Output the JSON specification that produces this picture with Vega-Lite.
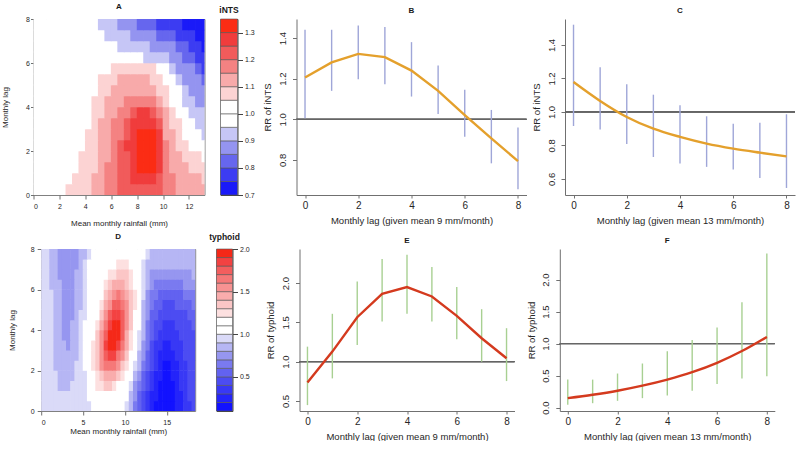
{
"$schema":"https://vega.github.io/schema/vega-lite/v6.json",
"padding":{"left":0.5,"top":2,"right":0,"bottom":0},
"config":{"font":"Liberation Sans","view":{"stroke":null},
"axis":{"grid":false,"domainColor":"#707070","tickColor":"#707070","labelColor":"#262626","titleColor":"#262626","titleFontWeight":"normal"},
"title":{"fontSize":8,"fontWeight":"bold","offset":4,"color":"#1a1a1a","anchor":"middle","frame":"group"}},
"datasets":{
"gA":[
{"x":0.25,"y":0.25,"v":1},{"x":0.75,"y":0.25,"v":1},{"x":1.25,"y":0.25,"v":1},{"x":1.75,"y":0.25,"v":1},{"x":2.25,"y":0.25,"v":1},{"x":2.75,"y":0.25,"v":1.075},{"x":3.25,"y":0.25,"v":1.075},{"x":3.75,"y":0.25,"v":1.075},{"x":4.25,"y":0.25,"v":1.075},{"x":4.75,"y":0.25,"v":1.125},{"x":5.25,"y":0.25,"v":1.125},{"x":5.75,"y":0.25,"v":1.175},{"x":6.25,"y":0.25,"v":1.175},{"x":6.75,"y":0.25,"v":1.225},{"x":7.25,"y":0.25,"v":1.225},{"x":7.75,"y":0.25,"v":1.225},{"x":8.25,"y":0.25,"v":1.225},{"x":8.75,"y":0.25,"v":1.225},{"x":9.25,"y":0.25,"v":1.225},{"x":9.75,"y":0.25,"v":1.225},{"x":10.25,"y":0.25,"v":1.175},{"x":10.75,"y":0.25,"v":1.175},{"x":11.25,"y":0.25,"v":1.125},{"x":11.75,"y":0.25,"v":1.125},{"x":12.25,"y":0.25,"v":1.125},{"x":12.75,"y":0.25,"v":1.125},{"x":13.25,"y":0.25,"v":1.125},
{"x":0.25,"y":0.75,"v":1},{"x":0.75,"y":0.75,"v":1},{"x":1.25,"y":0.75,"v":1},{"x":1.75,"y":0.75,"v":1},{"x":2.25,"y":0.75,"v":1},{"x":2.75,"y":0.75,"v":1},{"x":3.25,"y":0.75,"v":1.075},{"x":3.75,"y":0.75,"v":1.075},{"x":4.25,"y":0.75,"v":1.075},{"x":4.75,"y":0.75,"v":1.125},{"x":5.25,"y":0.75,"v":1.125},{"x":5.75,"y":0.75,"v":1.175},{"x":6.25,"y":0.75,"v":1.175},{"x":6.75,"y":0.75,"v":1.225},{"x":7.25,"y":0.75,"v":1.225},{"x":7.75,"y":0.75,"v":1.275},{"x":8.25,"y":0.75,"v":1.275},{"x":8.75,"y":0.75,"v":1.275},{"x":9.25,"y":0.75,"v":1.275},{"x":9.75,"y":0.75,"v":1.225},{"x":10.25,"y":0.75,"v":1.175},{"x":10.75,"y":0.75,"v":1.175},{"x":11.25,"y":0.75,"v":1.125},{"x":11.75,"y":0.75,"v":1.125},{"x":12.25,"y":0.75,"v":1.125},{"x":12.75,"y":0.75,"v":1.125},{"x":13.25,"y":0.75,"v":1.075},
{"x":0.25,"y":1.25,"v":1},{"x":0.75,"y":1.25,"v":1},{"x":1.25,"y":1.25,"v":1},{"x":1.75,"y":1.25,"v":1},{"x":2.25,"y":1.25,"v":1},{"x":2.75,"y":1.25,"v":1},{"x":3.25,"y":1.25,"v":1},{"x":3.75,"y":1.25,"v":1.075},{"x":4.25,"y":1.25,"v":1.075},{"x":4.75,"y":1.25,"v":1.075},{"x":5.25,"y":1.25,"v":1.125},{"x":5.75,"y":1.25,"v":1.175},{"x":6.25,"y":1.25,"v":1.175},{"x":6.75,"y":1.25,"v":1.225},{"x":7.25,"y":1.25,"v":1.225},{"x":7.75,"y":1.25,"v":1.275},{"x":8.25,"y":1.25,"v":1.325},{"x":8.75,"y":1.25,"v":1.325},{"x":9.25,"y":1.25,"v":1.325},{"x":9.75,"y":1.25,"v":1.275},{"x":10.25,"y":1.25,"v":1.175},{"x":10.75,"y":1.25,"v":1.125},{"x":11.25,"y":1.25,"v":1.125},{"x":11.75,"y":1.25,"v":1.125},{"x":12.25,"y":1.25,"v":1.075},{"x":12.75,"y":1.25,"v":1.075},{"x":13.25,"y":1.25,"v":1.075},
{"x":0.25,"y":1.75,"v":1},{"x":0.75,"y":1.75,"v":1},{"x":1.25,"y":1.75,"v":1},{"x":1.75,"y":1.75,"v":1},{"x":2.25,"y":1.75,"v":1},{"x":2.75,"y":1.75,"v":1},{"x":3.25,"y":1.75,"v":1},{"x":3.75,"y":1.75,"v":1.075},{"x":4.25,"y":1.75,"v":1.075},{"x":4.75,"y":1.75,"v":1.075},{"x":5.25,"y":1.75,"v":1.125},{"x":5.75,"y":1.75,"v":1.125},{"x":6.25,"y":1.75,"v":1.175},{"x":6.75,"y":1.75,"v":1.225},{"x":7.25,"y":1.75,"v":1.225},{"x":7.75,"y":1.75,"v":1.275},{"x":8.25,"y":1.75,"v":1.325},{"x":8.75,"y":1.75,"v":1.325},{"x":9.25,"y":1.75,"v":1.325},{"x":9.75,"y":1.75,"v":1.275},{"x":10.25,"y":1.75,"v":1.175},{"x":10.75,"y":1.75,"v":1.125},{"x":11.25,"y":1.75,"v":1.125},{"x":11.75,"y":1.75,"v":1.075},{"x":12.25,"y":1.75,"v":1.075},{"x":12.75,"y":1.75,"v":1.075},{"x":13.25,"y":1.75,"v":1},
{"x":0.25,"y":2.25,"v":1},{"x":0.75,"y":2.25,"v":1},{"x":1.25,"y":2.25,"v":1},{"x":1.75,"y":2.25,"v":1},{"x":2.25,"y":2.25,"v":1},{"x":2.75,"y":2.25,"v":1},{"x":3.25,"y":2.25,"v":1},{"x":3.75,"y":2.25,"v":1},{"x":4.25,"y":2.25,"v":1.075},{"x":4.75,"y":2.25,"v":1.075},{"x":5.25,"y":2.25,"v":1.125},{"x":5.75,"y":2.25,"v":1.125},{"x":6.25,"y":2.25,"v":1.175},{"x":6.75,"y":2.25,"v":1.225},{"x":7.25,"y":2.25,"v":1.275},{"x":7.75,"y":2.25,"v":1.275},{"x":8.25,"y":2.25,"v":1.325},{"x":8.75,"y":2.25,"v":1.325},{"x":9.25,"y":2.25,"v":1.325},{"x":9.75,"y":2.25,"v":1.275},{"x":10.25,"y":2.25,"v":1.175},{"x":10.75,"y":2.25,"v":1.125},{"x":11.25,"y":2.25,"v":1.075},{"x":11.75,"y":2.25,"v":1.075},{"x":12.25,"y":2.25,"v":1},{"x":12.75,"y":2.25,"v":1},{"x":13.25,"y":2.25,"v":1},
{"x":0.25,"y":2.75,"v":1},{"x":0.75,"y":2.75,"v":1},{"x":1.25,"y":2.75,"v":1},{"x":1.75,"y":2.75,"v":1},{"x":2.25,"y":2.75,"v":1},{"x":2.75,"y":2.75,"v":1},{"x":3.25,"y":2.75,"v":1},{"x":3.75,"y":2.75,"v":1},{"x":4.25,"y":2.75,"v":1.075},{"x":4.75,"y":2.75,"v":1.075},{"x":5.25,"y":2.75,"v":1.125},{"x":5.75,"y":2.75,"v":1.125},{"x":6.25,"y":2.75,"v":1.175},{"x":6.75,"y":2.75,"v":1.175},{"x":7.25,"y":2.75,"v":1.225},{"x":7.75,"y":2.75,"v":1.275},{"x":8.25,"y":2.75,"v":1.325},{"x":8.75,"y":2.75,"v":1.325},{"x":9.25,"y":2.75,"v":1.325},{"x":9.75,"y":2.75,"v":1.275},{"x":10.25,"y":2.75,"v":1.125},{"x":10.75,"y":2.75,"v":1.125},{"x":11.25,"y":2.75,"v":1.075},{"x":11.75,"y":2.75,"v":1},{"x":12.25,"y":2.75,"v":1},{"x":12.75,"y":2.75,"v":1},{"x":13.25,"y":2.75,"v":0.925},
{"x":0.25,"y":3.25,"v":1},{"x":0.75,"y":3.25,"v":1},{"x":1.25,"y":3.25,"v":1},{"x":1.75,"y":3.25,"v":1},{"x":2.25,"y":3.25,"v":1},{"x":2.75,"y":3.25,"v":1},{"x":3.25,"y":3.25,"v":1},{"x":3.75,"y":3.25,"v":1},{"x":4.25,"y":3.25,"v":1},{"x":4.75,"y":3.25,"v":1.075},{"x":5.25,"y":3.25,"v":1.125},{"x":5.75,"y":3.25,"v":1.125},{"x":6.25,"y":3.25,"v":1.175},{"x":6.75,"y":3.25,"v":1.175},{"x":7.25,"y":3.25,"v":1.225},{"x":7.75,"y":3.25,"v":1.275},{"x":8.25,"y":3.25,"v":1.275},{"x":8.75,"y":3.25,"v":1.275},{"x":9.25,"y":3.25,"v":1.275},{"x":9.75,"y":3.25,"v":1.225},{"x":10.25,"y":3.25,"v":1.125},{"x":10.75,"y":3.25,"v":1.075},{"x":11.25,"y":3.25,"v":1.075},{"x":11.75,"y":3.25,"v":1},{"x":12.25,"y":3.25,"v":1},{"x":12.75,"y":3.25,"v":0.925},{"x":13.25,"y":3.25,"v":0.925},
{"x":0.25,"y":3.75,"v":1},{"x":0.75,"y":3.75,"v":1},{"x":1.25,"y":3.75,"v":1},{"x":1.75,"y":3.75,"v":1},{"x":2.25,"y":3.75,"v":1},{"x":2.75,"y":3.75,"v":1},{"x":3.25,"y":3.75,"v":1},{"x":3.75,"y":3.75,"v":1},{"x":4.25,"y":3.75,"v":1},{"x":4.75,"y":3.75,"v":1.075},{"x":5.25,"y":3.75,"v":1.075},{"x":5.75,"y":3.75,"v":1.125},{"x":6.25,"y":3.75,"v":1.125},{"x":6.75,"y":3.75,"v":1.175},{"x":7.25,"y":3.75,"v":1.175},{"x":7.75,"y":3.75,"v":1.225},{"x":8.25,"y":3.75,"v":1.275},{"x":8.75,"y":3.75,"v":1.275},{"x":9.25,"y":3.75,"v":1.225},{"x":9.75,"y":3.75,"v":1.175},{"x":10.25,"y":3.75,"v":1.125},{"x":10.75,"y":3.75,"v":1.075},{"x":11.25,"y":3.75,"v":1},{"x":11.75,"y":3.75,"v":1},{"x":12.25,"y":3.75,"v":0.925},{"x":12.75,"y":3.75,"v":0.925},{"x":13.25,"y":3.75,"v":0.925},
{"x":0.25,"y":4.25,"v":1},{"x":0.75,"y":4.25,"v":1},{"x":1.25,"y":4.25,"v":1},{"x":1.75,"y":4.25,"v":1},{"x":2.25,"y":4.25,"v":1},{"x":2.75,"y":4.25,"v":1},{"x":3.25,"y":4.25,"v":1},{"x":3.75,"y":4.25,"v":1},{"x":4.25,"y":4.25,"v":1},{"x":4.75,"y":4.25,"v":1.075},{"x":5.25,"y":4.25,"v":1.075},{"x":5.75,"y":4.25,"v":1.125},{"x":6.25,"y":4.25,"v":1.125},{"x":6.75,"y":4.25,"v":1.125},{"x":7.25,"y":4.25,"v":1.175},{"x":7.75,"y":4.25,"v":1.175},{"x":8.25,"y":4.25,"v":1.175},{"x":8.75,"y":4.25,"v":1.175},{"x":9.25,"y":4.25,"v":1.175},{"x":9.75,"y":4.25,"v":1.125},{"x":10.25,"y":4.25,"v":1.075},{"x":10.75,"y":4.25,"v":1},{"x":11.25,"y":4.25,"v":1},{"x":11.75,"y":4.25,"v":0.925},{"x":12.25,"y":4.25,"v":0.925},{"x":12.75,"y":4.25,"v":0.875},{"x":13.25,"y":4.25,"v":0.875},
{"x":0.25,"y":4.75,"v":1},{"x":0.75,"y":4.75,"v":1},{"x":1.25,"y":4.75,"v":1},{"x":1.75,"y":4.75,"v":1},{"x":2.25,"y":4.75,"v":1},{"x":2.75,"y":4.75,"v":1},{"x":3.25,"y":4.75,"v":1},{"x":3.75,"y":4.75,"v":1},{"x":4.25,"y":4.75,"v":1},{"x":4.75,"y":4.75,"v":1},{"x":5.25,"y":4.75,"v":1.075},{"x":5.75,"y":4.75,"v":1.075},{"x":6.25,"y":4.75,"v":1.125},{"x":6.75,"y":4.75,"v":1.125},{"x":7.25,"y":4.75,"v":1.125},{"x":7.75,"y":4.75,"v":1.125},{"x":8.25,"y":4.75,"v":1.125},{"x":8.75,"y":4.75,"v":1.125},{"x":9.25,"y":4.75,"v":1.125},{"x":9.75,"y":4.75,"v":1.075},{"x":10.25,"y":4.75,"v":1.075},{"x":10.75,"y":4.75,"v":1},{"x":11.25,"y":4.75,"v":1},{"x":11.75,"y":4.75,"v":0.925},{"x":12.25,"y":4.75,"v":0.875},{"x":12.75,"y":4.75,"v":0.875},{"x":13.25,"y":4.75,"v":0.875},
{"x":0.25,"y":5.25,"v":1},{"x":0.75,"y":5.25,"v":1},{"x":1.25,"y":5.25,"v":1},{"x":1.75,"y":5.25,"v":1},{"x":2.25,"y":5.25,"v":1},{"x":2.75,"y":5.25,"v":1},{"x":3.25,"y":5.25,"v":1},{"x":3.75,"y":5.25,"v":1},{"x":4.25,"y":5.25,"v":1},{"x":4.75,"y":5.25,"v":1},{"x":5.25,"y":5.25,"v":1.075},{"x":5.75,"y":5.25,"v":1.075},{"x":6.25,"y":5.25,"v":1.075},{"x":6.75,"y":5.25,"v":1.125},{"x":7.25,"y":5.25,"v":1.125},{"x":7.75,"y":5.25,"v":1.125},{"x":8.25,"y":5.25,"v":1.125},{"x":8.75,"y":5.25,"v":1.125},{"x":9.25,"y":5.25,"v":1.075},{"x":9.75,"y":5.25,"v":1.075},{"x":10.25,"y":5.25,"v":1},{"x":10.75,"y":5.25,"v":1},{"x":11.25,"y":5.25,"v":0.925},{"x":11.75,"y":5.25,"v":0.875},{"x":12.25,"y":5.25,"v":0.875},{"x":12.75,"y":5.25,"v":0.875},{"x":13.25,"y":5.25,"v":0.825},
{"x":0.25,"y":5.75,"v":1},{"x":0.75,"y":5.75,"v":1},{"x":1.25,"y":5.75,"v":1},{"x":1.75,"y":5.75,"v":1},{"x":2.25,"y":5.75,"v":1},{"x":2.75,"y":5.75,"v":1},{"x":3.25,"y":5.75,"v":1},{"x":3.75,"y":5.75,"v":1},{"x":4.25,"y":5.75,"v":1},{"x":4.75,"y":5.75,"v":1},{"x":5.25,"y":5.75,"v":1},{"x":5.75,"y":5.75,"v":1},{"x":6.25,"y":5.75,"v":1.075},{"x":6.75,"y":5.75,"v":1.075},{"x":7.25,"y":5.75,"v":1.075},{"x":7.75,"y":5.75,"v":1.075},{"x":8.25,"y":5.75,"v":1.075},{"x":8.75,"y":5.75,"v":1.075},{"x":9.25,"y":5.75,"v":1.075},{"x":9.75,"y":5.75,"v":1},{"x":10.25,"y":5.75,"v":1},{"x":10.75,"y":5.75,"v":0.925},{"x":11.25,"y":5.75,"v":0.875},{"x":11.75,"y":5.75,"v":0.875},{"x":12.25,"y":5.75,"v":0.875},{"x":12.75,"y":5.75,"v":0.825},{"x":13.25,"y":5.75,"v":0.775},
{"x":0.25,"y":6.25,"v":1},{"x":0.75,"y":6.25,"v":1},{"x":1.25,"y":6.25,"v":1},{"x":1.75,"y":6.25,"v":1},{"x":2.25,"y":6.25,"v":1},{"x":2.75,"y":6.25,"v":1},{"x":3.25,"y":6.25,"v":1},{"x":3.75,"y":6.25,"v":1},{"x":4.25,"y":6.25,"v":1},{"x":4.75,"y":6.25,"v":1},{"x":5.25,"y":6.25,"v":1},{"x":5.75,"y":6.25,"v":1},{"x":6.25,"y":6.25,"v":1},{"x":6.75,"y":6.25,"v":1},{"x":7.25,"y":6.25,"v":1},{"x":7.75,"y":6.25,"v":1},{"x":8.25,"y":6.25,"v":1},{"x":8.75,"y":6.25,"v":0.925},{"x":9.25,"y":6.25,"v":0.925},{"x":9.75,"y":6.25,"v":0.925},{"x":10.25,"y":6.25,"v":0.925},{"x":10.75,"y":6.25,"v":0.875},{"x":11.25,"y":6.25,"v":0.875},{"x":11.75,"y":6.25,"v":0.825},{"x":12.25,"y":6.25,"v":0.825},{"x":12.75,"y":6.25,"v":0.775},{"x":13.25,"y":6.25,"v":0.775},
{"x":0.25,"y":6.75,"v":1},{"x":0.75,"y":6.75,"v":1},{"x":1.25,"y":6.75,"v":1},{"x":1.75,"y":6.75,"v":1},{"x":2.25,"y":6.75,"v":1},{"x":2.75,"y":6.75,"v":1},{"x":3.25,"y":6.75,"v":1},{"x":3.75,"y":6.75,"v":1},{"x":4.25,"y":6.75,"v":1},{"x":4.75,"y":6.75,"v":1},{"x":5.25,"y":6.75,"v":1},{"x":5.75,"y":6.75,"v":1},{"x":6.25,"y":6.75,"v":1},{"x":6.75,"y":6.75,"v":0.925},{"x":7.25,"y":6.75,"v":0.925},{"x":7.75,"y":6.75,"v":0.925},{"x":8.25,"y":6.75,"v":0.925},{"x":8.75,"y":6.75,"v":0.925},{"x":9.25,"y":6.75,"v":0.875},{"x":9.75,"y":6.75,"v":0.875},{"x":10.25,"y":6.75,"v":0.875},{"x":10.75,"y":6.75,"v":0.875},{"x":11.25,"y":6.75,"v":0.825},{"x":11.75,"y":6.75,"v":0.825},{"x":12.25,"y":6.75,"v":0.775},{"x":12.75,"y":6.75,"v":0.775},{"x":13.25,"y":6.75,"v":0.725},
{"x":0.25,"y":7.25,"v":1},{"x":0.75,"y":7.25,"v":1},{"x":1.25,"y":7.25,"v":1},{"x":1.75,"y":7.25,"v":1},{"x":2.25,"y":7.25,"v":1},{"x":2.75,"y":7.25,"v":1},{"x":3.25,"y":7.25,"v":1},{"x":3.75,"y":7.25,"v":1},{"x":4.25,"y":7.25,"v":1},{"x":4.75,"y":7.25,"v":1},{"x":5.25,"y":7.25,"v":1},{"x":5.75,"y":7.25,"v":0.925},{"x":6.25,"y":7.25,"v":0.925},{"x":6.75,"y":7.25,"v":0.925},{"x":7.25,"y":7.25,"v":0.925},{"x":7.75,"y":7.25,"v":0.875},{"x":8.25,"y":7.25,"v":0.875},{"x":8.75,"y":7.25,"v":0.875},{"x":9.25,"y":7.25,"v":0.875},{"x":9.75,"y":7.25,"v":0.825},{"x":10.25,"y":7.25,"v":0.825},{"x":10.75,"y":7.25,"v":0.825},{"x":11.25,"y":7.25,"v":0.775},{"x":11.75,"y":7.25,"v":0.775},{"x":12.25,"y":7.25,"v":0.775},{"x":12.75,"y":7.25,"v":0.725},{"x":13.25,"y":7.25,"v":0.71},
{"x":0.25,"y":7.75,"v":1},{"x":0.75,"y":7.75,"v":1},{"x":1.25,"y":7.75,"v":1},{"x":1.75,"y":7.75,"v":1},{"x":2.25,"y":7.75,"v":1},{"x":2.75,"y":7.75,"v":1},{"x":3.25,"y":7.75,"v":1},{"x":3.75,"y":7.75,"v":1},{"x":4.25,"y":7.75,"v":1},{"x":4.75,"y":7.75,"v":1},{"x":5.25,"y":7.75,"v":0.925},{"x":5.75,"y":7.75,"v":0.925},{"x":6.25,"y":7.75,"v":0.925},{"x":6.75,"y":7.75,"v":0.875},{"x":7.25,"y":7.75,"v":0.875},{"x":7.75,"y":7.75,"v":0.875},{"x":8.25,"y":7.75,"v":0.825},{"x":8.75,"y":7.75,"v":0.825},{"x":9.25,"y":7.75,"v":0.825},{"x":9.75,"y":7.75,"v":0.775},{"x":10.25,"y":7.75,"v":0.775},{"x":10.75,"y":7.75,"v":0.775},{"x":11.25,"y":7.75,"v":0.775},{"x":11.75,"y":7.75,"v":0.725},{"x":12.25,"y":7.75,"v":0.725},{"x":12.75,"y":7.75,"v":0.71},{"x":13.25,"y":7.75,"v":0.71}
],
"kA":[{"lo":0.7,"hi":0.75,"v":0.725},{"lo":0.75,"hi":0.8,"v":0.775},{"lo":0.8,"hi":0.85,"v":0.825},{"lo":0.85,"hi":0.9,"v":0.875},{"lo":0.9,"hi":0.95,"v":0.925},{"lo":0.95,"hi":1.0,"v":0.975},{"lo":1.0,"hi":1.05,"v":1.025},{"lo":1.05,"hi":1.1,"v":1.075},{"lo":1.1,"hi":1.15,"v":1.125},{"lo":1.15,"hi":1.2,"v":1.175},{"lo":1.2,"hi":1.25,"v":1.225},{"lo":1.25,"hi":1.3,"v":1.275},{"lo":1.3,"hi":1.35,"v":1.325}],
"gD":[
{"x":0.25,"y":0.25,"v":0.95},{"x":0.75,"y":0.25,"v":0.95},{"x":1.25,"y":0.25,"v":0.95},{"x":1.75,"y":0.25,"v":0.95},{"x":2.25,"y":0.25,"v":0.95},{"x":2.75,"y":0.25,"v":0.95},{"x":3.25,"y":0.25,"v":0.95},{"x":3.75,"y":0.25,"v":0.95},{"x":4.25,"y":0.25,"v":0.95},{"x":4.75,"y":0.25,"v":0.95},{"x":5.25,"y":0.25,"v":0.95},{"x":5.75,"y":0.25,"v":0.95},{"x":6.25,"y":0.25,"v":1.1},{"x":6.75,"y":0.25,"v":1.1},{"x":7.25,"y":0.25,"v":1.1},{"x":7.75,"y":0.25,"v":1.1},{"x":8.25,"y":0.25,"v":1.1},{"x":8.75,"y":0.25,"v":1.1},{"x":9.25,"y":0.25,"v":1.1},{"x":9.75,"y":0.25,"v":1.1},{"x":10.25,"y":0.25,"v":0.95},{"x":10.75,"y":0.25,"v":0.85},{"x":11.25,"y":0.25,"v":0.65},{"x":11.75,"y":0.25,"v":0.55},{"x":12.25,"y":0.25,"v":0.45},{"x":12.75,"y":0.25,"v":0.35},{"x":13.25,"y":0.25,"v":0.25},{"x":13.75,"y":0.25,"v":0.15},{"x":14.25,"y":0.25,"v":0.15},{"x":14.75,"y":0.25,"v":0.15},{"x":15.25,"y":0.25,"v":0.15},{"x":15.75,"y":0.25,"v":0.15},{"x":16.25,"y":0.25,"v":0.25},{"x":16.75,"y":0.25,"v":0.25},{"x":17.25,"y":0.25,"v":0.35},{"x":17.75,"y":0.25,"v":0.35},{"x":18.25,"y":0.25,"v":0.45},
{"x":0.25,"y":0.75,"v":0.95},{"x":0.75,"y":0.75,"v":0.95},{"x":1.25,"y":0.75,"v":0.95},{"x":1.75,"y":0.75,"v":0.95},{"x":2.25,"y":0.75,"v":0.95},{"x":2.75,"y":0.75,"v":0.95},{"x":3.25,"y":0.75,"v":0.95},{"x":3.75,"y":0.75,"v":0.95},{"x":4.25,"y":0.75,"v":0.95},{"x":4.75,"y":0.75,"v":0.95},{"x":5.25,"y":0.75,"v":0.95},{"x":5.75,"y":0.75,"v":1.1},{"x":6.25,"y":0.75,"v":1.1},{"x":6.75,"y":0.75,"v":1.1},{"x":7.25,"y":0.75,"v":1.1},{"x":7.75,"y":0.75,"v":1.1},{"x":8.25,"y":0.75,"v":1.1},{"x":8.75,"y":0.75,"v":1.1},{"x":9.25,"y":0.75,"v":1.1},{"x":9.75,"y":0.75,"v":1.1},{"x":10.25,"y":0.75,"v":1.1},{"x":10.75,"y":0.75,"v":0.85},{"x":11.25,"y":0.75,"v":0.75},{"x":11.75,"y":0.75,"v":0.55},{"x":12.25,"y":0.75,"v":0.45},{"x":12.75,"y":0.75,"v":0.35},{"x":13.25,"y":0.75,"v":0.25},{"x":13.75,"y":0.75,"v":0.25},{"x":14.25,"y":0.75,"v":0.15},{"x":14.75,"y":0.75,"v":0.15},{"x":15.25,"y":0.75,"v":0.15},{"x":15.75,"y":0.75,"v":0.15},{"x":16.25,"y":0.75,"v":0.25},{"x":16.75,"y":0.75,"v":0.25},{"x":17.25,"y":0.75,"v":0.35},{"x":17.75,"y":0.75,"v":0.45},{"x":18.25,"y":0.75,"v":0.45},
{"x":0.25,"y":1.25,"v":0.95},{"x":0.75,"y":1.25,"v":0.95},{"x":1.25,"y":1.25,"v":0.95},{"x":1.75,"y":1.25,"v":0.95},{"x":2.25,"y":1.25,"v":0.85},{"x":2.75,"y":1.25,"v":0.85},{"x":3.25,"y":1.25,"v":0.85},{"x":3.75,"y":1.25,"v":0.95},{"x":4.25,"y":1.25,"v":0.95},{"x":4.75,"y":1.25,"v":0.95},{"x":5.25,"y":1.25,"v":0.95},{"x":5.75,"y":1.25,"v":1.1},{"x":6.25,"y":1.25,"v":1.1},{"x":6.75,"y":1.25,"v":1.25},{"x":7.25,"y":1.25,"v":1.25},{"x":7.75,"y":1.25,"v":1.35},{"x":8.25,"y":1.25,"v":1.35},{"x":8.75,"y":1.25,"v":1.25},{"x":9.25,"y":1.25,"v":1.1},{"x":9.75,"y":1.25,"v":1.1},{"x":10.25,"y":1.25,"v":1.1},{"x":10.75,"y":1.25,"v":0.95},{"x":11.25,"y":1.25,"v":0.75},{"x":11.75,"y":1.25,"v":0.65},{"x":12.25,"y":1.25,"v":0.55},{"x":12.75,"y":1.25,"v":0.45},{"x":13.25,"y":1.25,"v":0.35},{"x":13.75,"y":1.25,"v":0.25},{"x":14.25,"y":1.25,"v":0.15},{"x":14.75,"y":1.25,"v":0.15},{"x":15.25,"y":1.25,"v":0.15},{"x":15.75,"y":1.25,"v":0.15},{"x":16.25,"y":1.25,"v":0.25},{"x":16.75,"y":1.25,"v":0.35},{"x":17.25,"y":1.25,"v":0.35},{"x":17.75,"y":1.25,"v":0.45},{"x":18.25,"y":1.25,"v":0.45},
{"x":0.25,"y":1.75,"v":0.95},{"x":0.75,"y":1.75,"v":0.95},{"x":1.25,"y":1.75,"v":0.95},{"x":1.75,"y":1.75,"v":0.95},{"x":2.25,"y":1.75,"v":0.85},{"x":2.75,"y":1.75,"v":0.85},{"x":3.25,"y":1.75,"v":0.85},{"x":3.75,"y":1.75,"v":0.85},{"x":4.25,"y":1.75,"v":0.95},{"x":4.75,"y":1.75,"v":0.95},{"x":5.25,"y":1.75,"v":0.95},{"x":5.75,"y":1.75,"v":1.1},{"x":6.25,"y":1.75,"v":1.1},{"x":6.75,"y":1.75,"v":1.25},{"x":7.25,"y":1.75,"v":1.35},{"x":7.75,"y":1.75,"v":1.45},{"x":8.25,"y":1.75,"v":1.45},{"x":8.75,"y":1.75,"v":1.45},{"x":9.25,"y":1.75,"v":1.35},{"x":9.75,"y":1.75,"v":1.25},{"x":10.25,"y":1.75,"v":1.1},{"x":10.75,"y":1.75,"v":1.1},{"x":11.25,"y":1.75,"v":0.85},{"x":11.75,"y":1.75,"v":0.75},{"x":12.25,"y":1.75,"v":0.55},{"x":12.75,"y":1.75,"v":0.45},{"x":13.25,"y":1.75,"v":0.35},{"x":13.75,"y":1.75,"v":0.25},{"x":14.25,"y":1.75,"v":0.25},{"x":14.75,"y":1.75,"v":0.15},{"x":15.25,"y":1.75,"v":0.15},{"x":15.75,"y":1.75,"v":0.25},{"x":16.25,"y":1.75,"v":0.25},{"x":16.75,"y":1.75,"v":0.35},{"x":17.25,"y":1.75,"v":0.35},{"x":17.75,"y":1.75,"v":0.45},{"x":18.25,"y":1.75,"v":0.45},
{"x":0.25,"y":2.25,"v":0.95},{"x":0.75,"y":2.25,"v":0.95},{"x":1.25,"y":2.25,"v":0.95},{"x":1.75,"y":2.25,"v":0.85},{"x":2.25,"y":2.25,"v":0.85},{"x":2.75,"y":2.25,"v":0.85},{"x":3.25,"y":2.25,"v":0.85},{"x":3.75,"y":2.25,"v":0.85},{"x":4.25,"y":2.25,"v":0.95},{"x":4.75,"y":2.25,"v":0.95},{"x":5.25,"y":2.25,"v":1.1},{"x":5.75,"y":2.25,"v":1.1},{"x":6.25,"y":2.25,"v":1.25},{"x":6.75,"y":2.25,"v":1.35},{"x":7.25,"y":2.25,"v":1.55},{"x":7.75,"y":2.25,"v":1.65},{"x":8.25,"y":2.25,"v":1.65},{"x":8.75,"y":2.25,"v":1.65},{"x":9.25,"y":2.25,"v":1.55},{"x":9.75,"y":2.25,"v":1.35},{"x":10.25,"y":2.25,"v":1.25},{"x":10.75,"y":2.25,"v":1.1},{"x":11.25,"y":2.25,"v":0.95},{"x":11.75,"y":2.25,"v":0.85},{"x":12.25,"y":2.25,"v":0.65},{"x":12.75,"y":2.25,"v":0.55},{"x":13.25,"y":2.25,"v":0.45},{"x":13.75,"y":2.25,"v":0.35},{"x":14.25,"y":2.25,"v":0.25},{"x":14.75,"y":2.25,"v":0.15},{"x":15.25,"y":2.25,"v":0.15},{"x":15.75,"y":2.25,"v":0.25},{"x":16.25,"y":2.25,"v":0.25},{"x":16.75,"y":2.25,"v":0.35},{"x":17.25,"y":2.25,"v":0.35},{"x":17.75,"y":2.25,"v":0.45},{"x":18.25,"y":2.25,"v":0.45},
{"x":0.25,"y":2.75,"v":0.95},{"x":0.75,"y":2.75,"v":0.95},{"x":1.25,"y":2.75,"v":0.95},{"x":1.75,"y":2.75,"v":0.85},{"x":2.25,"y":2.75,"v":0.85},{"x":2.75,"y":2.75,"v":0.85},{"x":3.25,"y":2.75,"v":0.85},{"x":3.75,"y":2.75,"v":0.85},{"x":4.25,"y":2.75,"v":0.85},{"x":4.75,"y":2.75,"v":0.95},{"x":5.25,"y":2.75,"v":1.1},{"x":5.75,"y":2.75,"v":1.1},{"x":6.25,"y":2.75,"v":1.25},{"x":6.75,"y":2.75,"v":1.35},{"x":7.25,"y":2.75,"v":1.55},{"x":7.75,"y":2.75,"v":1.75},{"x":8.25,"y":2.75,"v":1.85},{"x":8.75,"y":2.75,"v":1.85},{"x":9.25,"y":2.75,"v":1.65},{"x":9.75,"y":2.75,"v":1.55},{"x":10.25,"y":2.75,"v":1.35},{"x":10.75,"y":2.75,"v":1.1},{"x":11.25,"y":2.75,"v":1.1},{"x":11.75,"y":2.75,"v":0.85},{"x":12.25,"y":2.75,"v":0.75},{"x":12.75,"y":2.75,"v":0.55},{"x":13.25,"y":2.75,"v":0.45},{"x":13.75,"y":2.75,"v":0.35},{"x":14.25,"y":2.75,"v":0.25},{"x":14.75,"y":2.75,"v":0.25},{"x":15.25,"y":2.75,"v":0.25},{"x":15.75,"y":2.75,"v":0.25},{"x":16.25,"y":2.75,"v":0.35},{"x":16.75,"y":2.75,"v":0.35},{"x":17.25,"y":2.75,"v":0.45},{"x":17.75,"y":2.75,"v":0.45},{"x":18.25,"y":2.75,"v":0.45},
{"x":0.25,"y":3.25,"v":0.95},{"x":0.75,"y":3.25,"v":0.95},{"x":1.25,"y":3.25,"v":0.95},{"x":1.75,"y":3.25,"v":0.85},{"x":2.25,"y":3.25,"v":0.85},{"x":2.75,"y":3.25,"v":0.85},{"x":3.25,"y":3.25,"v":0.75},{"x":3.75,"y":3.25,"v":0.85},{"x":4.25,"y":3.25,"v":0.85},{"x":4.75,"y":3.25,"v":0.95},{"x":5.25,"y":3.25,"v":1.1},{"x":5.75,"y":3.25,"v":1.1},{"x":6.25,"y":3.25,"v":1.25},{"x":6.75,"y":3.25,"v":1.35},{"x":7.25,"y":3.25,"v":1.55},{"x":7.75,"y":3.25,"v":1.85},{"x":8.25,"y":3.25,"v":1.95},{"x":8.75,"y":3.25,"v":1.95},{"x":9.25,"y":3.25,"v":1.85},{"x":9.75,"y":3.25,"v":1.65},{"x":10.25,"y":3.25,"v":1.45},{"x":10.75,"y":3.25,"v":1.25},{"x":11.25,"y":3.25,"v":1.1},{"x":11.75,"y":3.25,"v":0.95},{"x":12.25,"y":3.25,"v":0.75},{"x":12.75,"y":3.25,"v":0.65},{"x":13.25,"y":3.25,"v":0.45},{"x":13.75,"y":3.25,"v":0.35},{"x":14.25,"y":3.25,"v":0.35},{"x":14.75,"y":3.25,"v":0.25},{"x":15.25,"y":3.25,"v":0.25},{"x":15.75,"y":3.25,"v":0.35},{"x":16.25,"y":3.25,"v":0.35},{"x":16.75,"y":3.25,"v":0.35},{"x":17.25,"y":3.25,"v":0.45},{"x":17.75,"y":3.25,"v":0.45},{"x":18.25,"y":3.25,"v":0.45},
{"x":0.25,"y":3.75,"v":0.95},{"x":0.75,"y":3.75,"v":0.95},{"x":1.25,"y":3.75,"v":0.95},{"x":1.75,"y":3.75,"v":0.85},{"x":2.25,"y":3.75,"v":0.85},{"x":2.75,"y":3.75,"v":0.75},{"x":3.25,"y":3.75,"v":0.75},{"x":3.75,"y":3.75,"v":0.85},{"x":4.25,"y":3.75,"v":0.85},{"x":4.75,"y":3.75,"v":0.95},{"x":5.25,"y":3.75,"v":1.1},{"x":5.75,"y":3.75,"v":1.1},{"x":6.25,"y":3.75,"v":1.1},{"x":6.75,"y":3.75,"v":1.35},{"x":7.25,"y":3.75,"v":1.55},{"x":7.75,"y":3.75,"v":1.75},{"x":8.25,"y":3.75,"v":1.95},{"x":8.75,"y":3.75,"v":1.95},{"x":9.25,"y":3.75,"v":1.95},{"x":9.75,"y":3.75,"v":1.75},{"x":10.25,"y":3.75,"v":1.45},{"x":10.75,"y":3.75,"v":1.25},{"x":11.25,"y":3.75,"v":1.1},{"x":11.75,"y":3.75,"v":0.95},{"x":12.25,"y":3.75,"v":0.85},{"x":12.75,"y":3.75,"v":0.65},{"x":13.25,"y":3.75,"v":0.55},{"x":13.75,"y":3.75,"v":0.45},{"x":14.25,"y":3.75,"v":0.35},{"x":14.75,"y":3.75,"v":0.35},{"x":15.25,"y":3.75,"v":0.35},{"x":15.75,"y":3.75,"v":0.35},{"x":16.25,"y":3.75,"v":0.35},{"x":16.75,"y":3.75,"v":0.45},{"x":17.25,"y":3.75,"v":0.45},{"x":17.75,"y":3.75,"v":0.45},{"x":18.25,"y":3.75,"v":0.45},
{"x":0.25,"y":4.25,"v":0.95},{"x":0.75,"y":4.25,"v":0.95},{"x":1.25,"y":4.25,"v":0.95},{"x":1.75,"y":4.25,"v":0.85},{"x":2.25,"y":4.25,"v":0.85},{"x":2.75,"y":4.25,"v":0.75},{"x":3.25,"y":4.25,"v":0.75},{"x":3.75,"y":4.25,"v":0.85},{"x":4.25,"y":4.25,"v":0.85},{"x":4.75,"y":4.25,"v":0.95},{"x":5.25,"y":4.25,"v":1.1},{"x":5.75,"y":4.25,"v":1.1},{"x":6.25,"y":4.25,"v":1.1},{"x":6.75,"y":4.25,"v":1.25},{"x":7.25,"y":4.25,"v":1.45},{"x":7.75,"y":4.25,"v":1.65},{"x":8.25,"y":4.25,"v":1.85},{"x":8.75,"y":4.25,"v":1.95},{"x":9.25,"y":4.25,"v":1.95},{"x":9.75,"y":4.25,"v":1.75},{"x":10.25,"y":4.25,"v":1.55},{"x":10.75,"y":4.25,"v":1.35},{"x":11.25,"y":4.25,"v":1.1},{"x":11.75,"y":4.25,"v":1.1},{"x":12.25,"y":4.25,"v":0.85},{"x":12.75,"y":4.25,"v":0.65},{"x":13.25,"y":4.25,"v":0.55},{"x":13.75,"y":4.25,"v":0.45},{"x":14.25,"y":4.25,"v":0.45},{"x":14.75,"y":4.25,"v":0.35},{"x":15.25,"y":4.25,"v":0.35},{"x":15.75,"y":4.25,"v":0.35},{"x":16.25,"y":4.25,"v":0.45},{"x":16.75,"y":4.25,"v":0.45},{"x":17.25,"y":4.25,"v":0.45},{"x":17.75,"y":4.25,"v":0.45},{"x":18.25,"y":4.25,"v":0.55},
{"x":0.25,"y":4.75,"v":0.95},{"x":0.75,"y":4.75,"v":0.95},{"x":1.25,"y":4.75,"v":0.95},{"x":1.75,"y":4.75,"v":0.85},{"x":2.25,"y":4.75,"v":0.85},{"x":2.75,"y":4.75,"v":0.75},{"x":3.25,"y":4.75,"v":0.75},{"x":3.75,"y":4.75,"v":0.75},{"x":4.25,"y":4.75,"v":0.85},{"x":4.75,"y":4.75,"v":0.95},{"x":5.25,"y":4.75,"v":0.95},{"x":5.75,"y":4.75,"v":1.1},{"x":6.25,"y":4.75,"v":1.1},{"x":6.75,"y":4.75,"v":1.1},{"x":7.25,"y":4.75,"v":1.35},{"x":7.75,"y":4.75,"v":1.55},{"x":8.25,"y":4.75,"v":1.75},{"x":8.75,"y":4.75,"v":1.85},{"x":9.25,"y":4.75,"v":1.85},{"x":9.75,"y":4.75,"v":1.75},{"x":10.25,"y":4.75,"v":1.55},{"x":10.75,"y":4.75,"v":1.35},{"x":11.25,"y":4.75,"v":1.1},{"x":11.75,"y":4.75,"v":1.1},{"x":12.25,"y":4.75,"v":0.85},{"x":12.75,"y":4.75,"v":0.75},{"x":13.25,"y":4.75,"v":0.55},{"x":13.75,"y":4.75,"v":0.55},{"x":14.25,"y":4.75,"v":0.45},{"x":14.75,"y":4.75,"v":0.45},{"x":15.25,"y":4.75,"v":0.45},{"x":15.75,"y":4.75,"v":0.45},{"x":16.25,"y":4.75,"v":0.45},{"x":16.75,"y":4.75,"v":0.45},{"x":17.25,"y":4.75,"v":0.45},{"x":17.75,"y":4.75,"v":0.55},{"x":18.25,"y":4.75,"v":0.55},
{"x":0.25,"y":5.25,"v":0.95},{"x":0.75,"y":5.25,"v":0.95},{"x":1.25,"y":5.25,"v":0.95},{"x":1.75,"y":5.25,"v":0.85},{"x":2.25,"y":5.25,"v":0.85},{"x":2.75,"y":5.25,"v":0.75},{"x":3.25,"y":5.25,"v":0.75},{"x":3.75,"y":5.25,"v":0.75},{"x":4.25,"y":5.25,"v":0.85},{"x":4.75,"y":5.25,"v":0.85},{"x":5.25,"y":5.25,"v":0.95},{"x":5.75,"y":5.25,"v":1.1},{"x":6.25,"y":5.25,"v":1.1},{"x":6.75,"y":5.25,"v":1.1},{"x":7.25,"y":5.25,"v":1.25},{"x":7.75,"y":5.25,"v":1.45},{"x":8.25,"y":5.25,"v":1.55},{"x":8.75,"y":5.25,"v":1.75},{"x":9.25,"y":5.25,"v":1.75},{"x":9.75,"y":5.25,"v":1.65},{"x":10.25,"y":5.25,"v":1.55},{"x":10.75,"y":5.25,"v":1.35},{"x":11.25,"y":5.25,"v":1.25},{"x":11.75,"y":5.25,"v":1.1},{"x":12.25,"y":5.25,"v":0.85},{"x":12.75,"y":5.25,"v":0.75},{"x":13.25,"y":5.25,"v":0.65},{"x":13.75,"y":5.25,"v":0.55},{"x":14.25,"y":5.25,"v":0.55},{"x":14.75,"y":5.25,"v":0.45},{"x":15.25,"y":5.25,"v":0.45},{"x":15.75,"y":5.25,"v":0.45},{"x":16.25,"y":5.25,"v":0.55},{"x":16.75,"y":5.25,"v":0.55},{"x":17.25,"y":5.25,"v":0.55},{"x":17.75,"y":5.25,"v":0.55},{"x":18.25,"y":5.25,"v":0.65},
{"x":0.25,"y":5.75,"v":0.95},{"x":0.75,"y":5.75,"v":0.95},{"x":1.25,"y":5.75,"v":0.95},{"x":1.75,"y":5.75,"v":0.85},{"x":2.25,"y":5.75,"v":0.85},{"x":2.75,"y":5.75,"v":0.75},{"x":3.25,"y":5.75,"v":0.75},{"x":3.75,"y":5.75,"v":0.75},{"x":4.25,"y":5.75,"v":0.85},{"x":4.75,"y":5.75,"v":0.85},{"x":5.25,"y":5.75,"v":0.95},{"x":5.75,"y":5.75,"v":1.1},{"x":6.25,"y":5.75,"v":1.1},{"x":6.75,"y":5.75,"v":1.1},{"x":7.25,"y":5.75,"v":1.1},{"x":7.75,"y":5.75,"v":1.35},{"x":8.25,"y":5.75,"v":1.45},{"x":8.75,"y":5.75,"v":1.55},{"x":9.25,"y":5.75,"v":1.65},{"x":9.75,"y":5.75,"v":1.55},{"x":10.25,"y":5.75,"v":1.45},{"x":10.75,"y":5.75,"v":1.35},{"x":11.25,"y":5.75,"v":1.25},{"x":11.75,"y":5.75,"v":1.1},{"x":12.25,"y":5.75,"v":0.95},{"x":12.75,"y":5.75,"v":0.75},{"x":13.25,"y":5.75,"v":0.65},{"x":13.75,"y":5.75,"v":0.65},{"x":14.25,"y":5.75,"v":0.55},{"x":14.75,"y":5.75,"v":0.55},{"x":15.25,"y":5.75,"v":0.55},{"x":15.75,"y":5.75,"v":0.55},{"x":16.25,"y":5.75,"v":0.55},{"x":16.75,"y":5.75,"v":0.55},{"x":17.25,"y":5.75,"v":0.65},{"x":17.75,"y":5.75,"v":0.65},{"x":18.25,"y":5.75,"v":0.65},
{"x":0.25,"y":6.25,"v":0.95},{"x":0.75,"y":6.25,"v":0.95},{"x":1.25,"y":6.25,"v":0.85},{"x":1.75,"y":6.25,"v":0.85},{"x":2.25,"y":6.25,"v":0.85},{"x":2.75,"y":6.25,"v":0.75},{"x":3.25,"y":6.25,"v":0.75},{"x":3.75,"y":6.25,"v":0.75},{"x":4.25,"y":6.25,"v":0.85},{"x":4.75,"y":6.25,"v":0.85},{"x":5.25,"y":6.25,"v":0.95},{"x":5.75,"y":6.25,"v":1.1},{"x":6.25,"y":6.25,"v":1.1},{"x":6.75,"y":6.25,"v":1.1},{"x":7.25,"y":6.25,"v":1.1},{"x":7.75,"y":6.25,"v":1.25},{"x":8.25,"y":6.25,"v":1.35},{"x":8.75,"y":6.25,"v":1.45},{"x":9.25,"y":6.25,"v":1.45},{"x":9.75,"y":6.25,"v":1.45},{"x":10.25,"y":6.25,"v":1.35},{"x":10.75,"y":6.25,"v":1.25},{"x":11.25,"y":6.25,"v":1.1},{"x":11.75,"y":6.25,"v":1.1},{"x":12.25,"y":6.25,"v":0.95},{"x":12.75,"y":6.25,"v":0.85},{"x":13.25,"y":6.25,"v":0.75},{"x":13.75,"y":6.25,"v":0.65},{"x":14.25,"y":6.25,"v":0.65},{"x":14.75,"y":6.25,"v":0.65},{"x":15.25,"y":6.25,"v":0.65},{"x":15.75,"y":6.25,"v":0.65},{"x":16.25,"y":6.25,"v":0.65},{"x":16.75,"y":6.25,"v":0.65},{"x":17.25,"y":6.25,"v":0.75},{"x":17.75,"y":6.25,"v":0.75},{"x":18.25,"y":6.25,"v":0.75},
{"x":0.25,"y":6.75,"v":0.95},{"x":0.75,"y":6.75,"v":0.95},{"x":1.25,"y":6.75,"v":0.85},{"x":1.75,"y":6.75,"v":0.85},{"x":2.25,"y":6.75,"v":0.75},{"x":2.75,"y":6.75,"v":0.75},{"x":3.25,"y":6.75,"v":0.75},{"x":3.75,"y":6.75,"v":0.75},{"x":4.25,"y":6.75,"v":0.85},{"x":4.75,"y":6.75,"v":0.85},{"x":5.25,"y":6.75,"v":0.95},{"x":5.75,"y":6.75,"v":1.1},{"x":6.25,"y":6.75,"v":1.1},{"x":6.75,"y":6.75,"v":1.1},{"x":7.25,"y":6.75,"v":1.1},{"x":7.75,"y":6.75,"v":1.1},{"x":8.25,"y":6.75,"v":1.25},{"x":8.75,"y":6.75,"v":1.25},{"x":9.25,"y":6.75,"v":1.35},{"x":9.75,"y":6.75,"v":1.35},{"x":10.25,"y":6.75,"v":1.35},{"x":10.75,"y":6.75,"v":1.25},{"x":11.25,"y":6.75,"v":1.1},{"x":11.75,"y":6.75,"v":1.1},{"x":12.25,"y":6.75,"v":0.95},{"x":12.75,"y":6.75,"v":0.85},{"x":13.25,"y":6.75,"v":0.75},{"x":13.75,"y":6.75,"v":0.75},{"x":14.25,"y":6.75,"v":0.75},{"x":14.75,"y":6.75,"v":0.75},{"x":15.25,"y":6.75,"v":0.75},{"x":15.75,"y":6.75,"v":0.75},{"x":16.25,"y":6.75,"v":0.75},{"x":16.75,"y":6.75,"v":0.75},{"x":17.25,"y":6.75,"v":0.75},{"x":17.75,"y":6.75,"v":0.75},{"x":18.25,"y":6.75,"v":0.85},
{"x":0.25,"y":7.25,"v":0.95},{"x":0.75,"y":7.25,"v":0.95},{"x":1.25,"y":7.25,"v":0.85},{"x":1.75,"y":7.25,"v":0.85},{"x":2.25,"y":7.25,"v":0.75},{"x":2.75,"y":7.25,"v":0.75},{"x":3.25,"y":7.25,"v":0.75},{"x":3.75,"y":7.25,"v":0.75},{"x":4.25,"y":7.25,"v":0.75},{"x":4.75,"y":7.25,"v":0.85},{"x":5.25,"y":7.25,"v":0.95},{"x":5.75,"y":7.25,"v":1.1},{"x":6.25,"y":7.25,"v":1.1},{"x":6.75,"y":7.25,"v":1.1},{"x":7.25,"y":7.25,"v":1.1},{"x":7.75,"y":7.25,"v":1.1},{"x":8.25,"y":7.25,"v":1.1},{"x":8.75,"y":7.25,"v":1.1},{"x":9.25,"y":7.25,"v":1.25},{"x":9.75,"y":7.25,"v":1.25},{"x":10.25,"y":7.25,"v":1.25},{"x":10.75,"y":7.25,"v":1.1},{"x":11.25,"y":7.25,"v":1.1},{"x":11.75,"y":7.25,"v":1.1},{"x":12.25,"y":7.25,"v":0.95},{"x":12.75,"y":7.25,"v":0.85},{"x":13.25,"y":7.25,"v":0.85},{"x":13.75,"y":7.25,"v":0.85},{"x":14.25,"y":7.25,"v":0.85},{"x":14.75,"y":7.25,"v":0.85},{"x":15.25,"y":7.25,"v":0.85},{"x":15.75,"y":7.25,"v":0.85},{"x":16.25,"y":7.25,"v":0.85},{"x":16.75,"y":7.25,"v":0.85},{"x":17.25,"y":7.25,"v":0.85},{"x":17.75,"y":7.25,"v":0.85},{"x":18.25,"y":7.25,"v":0.85},
{"x":0.25,"y":7.75,"v":0.95},{"x":0.75,"y":7.75,"v":0.95},{"x":1.25,"y":7.75,"v":0.85},{"x":1.75,"y":7.75,"v":0.85},{"x":2.25,"y":7.75,"v":0.75},{"x":2.75,"y":7.75,"v":0.75},{"x":3.25,"y":7.75,"v":0.75},{"x":3.75,"y":7.75,"v":0.75},{"x":4.25,"y":7.75,"v":0.75},{"x":4.75,"y":7.75,"v":0.85},{"x":5.25,"y":7.75,"v":0.85},{"x":5.75,"y":7.75,"v":0.95},{"x":6.25,"y":7.75,"v":1.1},{"x":6.75,"y":7.75,"v":1.1},{"x":7.25,"y":7.75,"v":1.1},{"x":7.75,"y":7.75,"v":1.1},{"x":8.25,"y":7.75,"v":1.1},{"x":8.75,"y":7.75,"v":1.1},{"x":9.25,"y":7.75,"v":1.1},{"x":9.75,"y":7.75,"v":1.1},{"x":10.25,"y":7.75,"v":1.1},{"x":10.75,"y":7.75,"v":1.1},{"x":11.25,"y":7.75,"v":1.1},{"x":11.75,"y":7.75,"v":1.1},{"x":12.25,"y":7.75,"v":1.1},{"x":12.75,"y":7.75,"v":0.95},{"x":13.25,"y":7.75,"v":0.85},{"x":13.75,"y":7.75,"v":0.85},{"x":14.25,"y":7.75,"v":0.85},{"x":14.75,"y":7.75,"v":0.85},{"x":15.25,"y":7.75,"v":0.85},{"x":15.75,"y":7.75,"v":0.85},{"x":16.25,"y":7.75,"v":0.85},{"x":16.75,"y":7.75,"v":0.85},{"x":17.25,"y":7.75,"v":0.85},{"x":17.75,"y":7.75,"v":0.85},{"x":18.25,"y":7.75,"v":0.85}
],
"kD":[{"lo":0.1,"hi":0.2,"v":0.15},{"lo":0.2,"hi":0.3,"v":0.25},{"lo":0.3,"hi":0.4,"v":0.35},{"lo":0.4,"hi":0.5,"v":0.45},{"lo":0.5,"hi":0.6,"v":0.55},{"lo":0.6,"hi":0.7,"v":0.65},{"lo":0.7,"hi":0.8,"v":0.75},{"lo":0.8,"hi":0.9,"v":0.85},{"lo":0.9,"hi":1.0,"v":0.95},{"lo":1.0,"hi":1.1,"v":1.05},{"lo":1.1,"hi":1.2,"v":1.15},{"lo":1.2,"hi":1.3,"v":1.25},{"lo":1.3,"hi":1.4,"v":1.35},{"lo":1.4,"hi":1.5,"v":1.45},{"lo":1.5,"hi":1.6,"v":1.55},{"lo":1.6,"hi":1.7,"v":1.65},{"lo":1.7,"hi":1.8,"v":1.75},{"lo":1.8,"hi":1.9,"v":1.85},{"lo":1.9,"hi":2.0,"v":1.95}],
"B":[{"lag":0,"rr":1.206,"lo":1.005,"hi":1.441},{"lag":1,"rr":1.28,"lo":1.14,"hi":1.441},{"lag":2,"rr":1.322,"lo":1.197,"hi":1.462},{"lag":3,"rr":1.306,"lo":1.173,"hi":1.454},{"lag":4,"rr":1.24,"lo":1.112,"hi":1.38},{"lag":5,"rr":1.14,"lo":1.026,"hi":1.265},{"lag":6,"rr":1.021,"lo":0.914,"hi":1.145},{"lag":7,"rr":0.906,"lo":0.783,"hi":1.046},{"lag":8,"rr":0.794,"lo":0.655,"hi":0.959}],
"C":[{"lag":0,"rr":1.179,"lo":0.916,"hi":1.521},{"lag":1,"rr":1.066,"lo":0.895,"hi":1.267},{"lag":2,"rr":0.97,"lo":0.809,"hi":1.165},{"lag":3,"rr":0.9,"lo":0.731,"hi":1.103},{"lag":4,"rr":0.851,"lo":0.692,"hi":1.04},{"lag":5,"rr":0.811,"lo":0.672,"hi":0.974},{"lag":6,"rr":0.781,"lo":0.656,"hi":0.93},{"lag":7,"rr":0.757,"lo":0.606,"hi":0.936},{"lag":8,"rr":0.735,"lo":0.546,"hi":0.986}],
"E":[{"lag":0,"rr":0.736,"lo":0.447,"hi":1.191},{"lag":1,"rr":1.128,"lo":0.787,"hi":1.609},{"lag":2,"rr":1.566,"lo":1.213,"hi":2.021},{"lag":3,"rr":1.864,"lo":1.511,"hi":2.306},{"lag":4,"rr":1.949,"lo":1.609,"hi":2.362},{"lag":5,"rr":1.83,"lo":1.511,"hi":2.204},{"lag":6,"rr":1.583,"lo":1.285,"hi":1.949},{"lag":7,"rr":1.298,"lo":1.0,"hi":1.668},{"lag":8,"rr":1.043,"lo":0.753,"hi":1.426}],
"F":[{"lag":0,"rr":0.147,"lo":0.042,"hi":0.437},{"lag":1,"rr":0.2,"lo":0.068,"hi":0.437},{"lag":2,"rr":0.263,"lo":0.105,"hi":0.532},{"lag":3,"rr":0.342,"lo":0.147,"hi":0.689},{"lag":4,"rr":0.437,"lo":0.189,"hi":0.879},{"lag":5,"rr":0.553,"lo":0.263,"hi":1.058},{"lag":6,"rr":0.7,"lo":0.368,"hi":1.253},{"lag":7,"rr":0.884,"lo":0.453,"hi":1.647},{"lag":8,"rr":1.105,"lo":0.489,"hi":2.41}]
},
"resolve":{"scale":{"color":"independent"}},
"spacing":4,
"vconcat":[
{"spacing":7,"resolve":{"scale":{"color":"independent"}},"hconcat":[
 {"bounds":"flush","spacing":16,"resolve":{"scale":{"color":"independent"}},"hconcat":[
  {"title":{"text":"A"},"width":171,"height":176,"view":{"stroke":"#808080","strokeWidth":1},
   "data":{"name":"gA"},
   "mark":{"type":"point","shape":"M-3.6,-5.85H3.6V5.85H-3.6Z","size":4,"filled":true,"opacity":1,"strokeWidth":0,"clip":true},
   "encoding":{
    "x":{"field":"x","type":"quantitative","title":"Mean monthly rainfall (mm)","scale":{"domain":[0,13.2],"nice":false,"zero":false},"axis":{"values":[0,2,4,6,8,10,12],"domain":false,"labelFontSize":7,"titleFontSize":8,"tickSize":4,"labelPadding":3,"titlePadding":10}},
    "y":{"field":"y","type":"quantitative","title":"Monthly lag","scale":{"domain":[0,8],"nice":false,"zero":false},"axis":{"values":[0,2,4,6,8],"domain":false,"labelFontSize":7,"titleFontSize":8,"tickSize":3,"labelPadding":1,"titlePadding":16.5}},
    "color":{"field":"v","type":"quantitative","legend":null,"scale":{"type":"threshold","domain":[0.75,0.8,0.85,0.9,0.95,1.05,1.1,1.15,1.2,1.25,1.3],"range":["#1a1af8","#3c3cf2","#6666ee","#9494f0","#c6c6f6","#ffffff","#fcd3d3","#f8aaaa","#f48282","#f15b5b","#f03c3c","#fb2c14"]}}
   }},
  {"title":{"text":"iNTS","fontSize":8.5},"width":17,"height":176,"view":{"stroke":"#444444","strokeWidth":1},
   "data":{"name":"kA"},
   "mark":{"type":"rect","stroke":"#555555","strokeWidth":0.6},
   "encoding":{
    "y":{"field":"lo","type":"quantitative","title":null,"scale":{"domain":[0.7,1.35],"nice":false,"zero":false},"axis":{"orient":"right","values":[0.7,0.8,0.9,1.0,1.1,1.2,1.3],"format":".1f","domain":false,"labelFontSize":7,"tickSize":5,"labelPadding":2,"tickColor":"#444444"}},
    "y2":{"field":"hi"},
    "color":{"field":"v","type":"quantitative","legend":null,"scale":{"type":"threshold","domain":[0.75,0.8,0.85,0.9,0.95,1.05,1.1,1.15,1.2,1.25,1.3],"range":["#1a1af8","#3c3cf2","#6666ee","#9494f0","#c6c6f6","#ffffff","#fcd3d3","#f8aaaa","#f48282","#f15b5b","#f03c3c","#fb2c14"]}}
   }}
 ]},
 {"bounds":"flush","spacing":38.5,"hconcat":[
  {"title":{"text":"B"},"width":230,"height":176,"data":{"name":"B"},
   "layer":[
    {"mark":{"type":"rule","color":"#666666","strokeWidth":0.7},"encoding":{"y":{"datum":1,"type":"quantitative"}}},
    {"mark":{"type":"rule","color":"#9fa6d8","strokeWidth":1.4},"encoding":{
      "x":{"field":"lag","type":"quantitative","title":"Monthly lag (given mean 9 mm/month)","scale":{"domain":[-0.32,8.32],"nice":false,"zero":false},"axis":{"values":[0,2,4,6,8],"format":"d","labelFontSize":10,"titleFontSize":9.5,"tickSize":3,"labelPadding":2,"titlePadding":5}},
      "y":{"field":"lo","type":"quantitative","title":"RR of iNTS","scale":{"domain":[0.627,1.494],"nice":false,"zero":false},"axis":{"values":[0.8,1.0,1.2,1.4],"format":".1f","labelAngle":-90,"labelAlign":"center","labelBaseline":"bottom","labelFontSize":9.5,"titleFontSize":9.5,"tickSize":4,"labelPadding":5,"titlePadding":5}},
      "y2":{"field":"hi"}}},
    {"mark":{"type":"line","color":"#e4a02c","strokeWidth":2.4},"encoding":{
      "x":{"field":"lag","type":"quantitative","title":"Monthly lag (given mean 9 mm/month)"},
      "y":{"field":"rr","type":"quantitative","title":"RR of iNTS"}}}
   ]},
  {"title":{"text":"C"},"width":230,"height":176,"data":{"name":"C"},
   "layer":[
    {"mark":{"type":"rule","color":"#666666","strokeWidth":0.7},"encoding":{"y":{"datum":1,"type":"quantitative"}}},
    {"mark":{"type":"rule","color":"#9fa6d8","strokeWidth":1.4},"encoding":{
      "x":{"field":"lag","type":"quantitative","title":"Monthly lag (given mean 13 mm/month)","scale":{"domain":[-0.32,8.32],"nice":false,"zero":false},"axis":{"values":[0,2,4,6,8],"format":"d","labelFontSize":10,"titleFontSize":9.5,"tickSize":3,"labelPadding":2,"titlePadding":5}},
      "y":{"field":"lo","type":"quantitative","title":"RR of iNTS","scale":{"domain":[0.504,1.555],"nice":false,"zero":false},"axis":{"values":[0.6,0.8,1.0,1.2,1.4],"format":".1f","labelAngle":-90,"labelAlign":"center","labelBaseline":"bottom","labelFontSize":9.5,"titleFontSize":9.5,"tickSize":4,"labelPadding":5,"titlePadding":5}},
      "y2":{"field":"hi"}}},
    {"mark":{"type":"line","color":"#e4a02c","strokeWidth":2.4,"interpolate":"monotone"},"encoding":{
      "x":{"field":"lag","type":"quantitative","title":"Monthly lag (given mean 13 mm/month)"},
      "y":{"field":"rr","type":"quantitative","title":"RR of iNTS"}}}
   ]}
 ]}
]},
{"spacing":15,"resolve":{"scale":{"color":"independent"}},"hconcat":[
 {"spacing":12,"resolve":{"scale":{"color":"independent"}},"hconcat":[
  {"bounds":"flush","spacing":6.7,"resolve":{"scale":{"color":"independent"}},"hconcat":[
   {"width":1,"height":162,"data":{"values":[]},"mark":{"type":"point"},"encoding":{}},
   {"title":{"text":"D"},"width":154,"height":162,"view":{"stroke":"#808080","strokeWidth":1},
    "data":{"name":"gD"},
    "mark":{"type":"point","shape":"M-2.4,-5.4H2.4V5.4H-2.4Z","size":4,"filled":true,"opacity":1,"strokeWidth":0,"clip":true},
    "encoding":{
     "x":{"field":"x","type":"quantitative","title":"Mean monthly rainfall (mm)","scale":{"domain":[0,18.4],"nice":false,"zero":false},"axis":{"values":[0,5,10,15],"domain":false,"labelFontSize":7,"titleFontSize":8,"tickSize":4,"labelPadding":3,"titlePadding":2}},
     "y":{"field":"y","type":"quantitative","title":"Monthly lag","scale":{"domain":[0,8],"nice":false,"zero":false},"axis":{"values":[0,2,4,6,8],"domain":false,"labelFontSize":7,"titleFontSize":8,"tickSize":4,"labelPadding":3,"titlePadding":14}},
     "color":{"field":"v","type":"quantitative","legend":null,"scale":{"type":"threshold","domain":[0.2,0.3,0.4,0.5,0.6,0.7,0.8,0.9,1.0,1.2,1.3,1.4,1.5,1.6,1.7,1.8,1.9],"range":["#1212ff","#2424fa","#3838f5","#4c4cf2","#6262f0","#7a7af0","#9696f0","#b6b6f4","#dadaf8","#ffffff","#fde0e0","#fbc6c6","#f9acac","#f79292","#f57878","#f35e5e","#f34242","#f52818"]}}
    }}
  ]},
  {"title":{"text":"typhoid","fontSize":8.5},"width":16,"height":162,"view":{"stroke":"#444444","strokeWidth":1},
   "data":{"name":"kD"},
   "mark":{"type":"rect","stroke":"#555555","strokeWidth":0.6},
   "encoding":{
    "y":{"field":"lo","type":"quantitative","title":null,"scale":{"domain":[0.1,2.0],"nice":false,"zero":false},"axis":{"orient":"right","values":[0.5,1.0,1.5,2.0],"format":".1f","domain":false,"labelFontSize":7,"tickSize":5,"labelPadding":2,"tickColor":"#444444"}},
    "y2":{"field":"hi"},
    "color":{"field":"v","type":"quantitative","legend":null,"scale":{"type":"threshold","domain":[0.2,0.3,0.4,0.5,0.6,0.7,0.8,0.9,1.0,1.2,1.3,1.4,1.5,1.6,1.7,1.8,1.9],"range":["#1212ff","#2424fa","#3838f5","#4c4cf2","#6262f0","#7a7af0","#9696f0","#b6b6f4","#dadaf8","#ffffff","#fde0e0","#fbc6c6","#f9acac","#f79292","#f57878","#f35e5e","#f34242","#f52818"]}}
   }}
 ]},
 {"bounds":"flush","spacing":45.3,"hconcat":[
  {"title":{"text":"E"},"width":215,"height":162,"data":{"name":"E"},
   "layer":[
    {"mark":{"type":"rule","color":"#666666","strokeWidth":0.7},"encoding":{"y":{"datum":1,"type":"quantitative"}}},
    {"mark":{"type":"rule","color":"#a8d092","strokeWidth":1.4},"encoding":{
      "x":{"field":"lag","type":"quantitative","title":"Monthly lag (given mean 9 mm/month)","scale":{"domain":[-0.32,8.32],"nice":false,"zero":false},"axis":{"values":[0,2,4,6,8],"format":"d","labelFontSize":10,"titleFontSize":9.5,"tickSize":3,"labelPadding":2,"titlePadding":5}},
      "y":{"field":"lo","type":"quantitative","title":"RR of typhoid","scale":{"domain":[0.372,2.434],"nice":false,"zero":false},"axis":{"values":[0.5,1.0,1.5,2.0],"format":".1f","labelAngle":-90,"labelAlign":"center","labelBaseline":"bottom","labelFontSize":9.5,"titleFontSize":9.5,"tickSize":4,"labelPadding":5,"titlePadding":5}},
      "y2":{"field":"hi"}}},
    {"mark":{"type":"line","color":"#d43a1e","strokeWidth":2.4},"encoding":{
      "x":{"field":"lag","type":"quantitative","title":"Monthly lag (given mean 9 mm/month)"},
      "y":{"field":"rr","type":"quantitative","title":"RR of typhoid"}}}
   ]},
  {"title":{"text":"F"},"width":215,"height":162,"data":{"name":"F"},
   "layer":[
    {"mark":{"type":"rule","color":"#666666","strokeWidth":0.7},"encoding":{"y":{"datum":1,"type":"quantitative"}}},
    {"mark":{"type":"rule","color":"#a8d092","strokeWidth":1.4},"encoding":{
      "x":{"field":"lag","type":"quantitative","title":"Monthly lag (given mean 13 mm/month)","scale":{"domain":[-0.32,8.32],"nice":false,"zero":false},"axis":{"values":[0,2,4,6,8],"format":"d","labelFontSize":10,"titleFontSize":9.5,"tickSize":3,"labelPadding":2,"titlePadding":5}},
      "y":{"field":"lo","type":"quantitative","title":"RR of typhoid","scale":{"domain":[-0.054,2.48],"nice":false,"zero":false},"axis":{"values":[0,0.5,1.0,1.5,2.0],"format":".1f","labelAngle":-90,"labelAlign":"center","labelBaseline":"bottom","labelFontSize":9.5,"titleFontSize":9.5,"tickSize":4,"labelPadding":5,"titlePadding":4}},
      "y2":{"field":"hi"}}},
    {"mark":{"type":"line","color":"#d43a1e","strokeWidth":2.4,"interpolate":"monotone"},"encoding":{
      "x":{"field":"lag","type":"quantitative","title":"Monthly lag (given mean 13 mm/month)"},
      "y":{"field":"rr","type":"quantitative","title":"RR of typhoid"}}}
   ]}
 ]}
]}
]
}
